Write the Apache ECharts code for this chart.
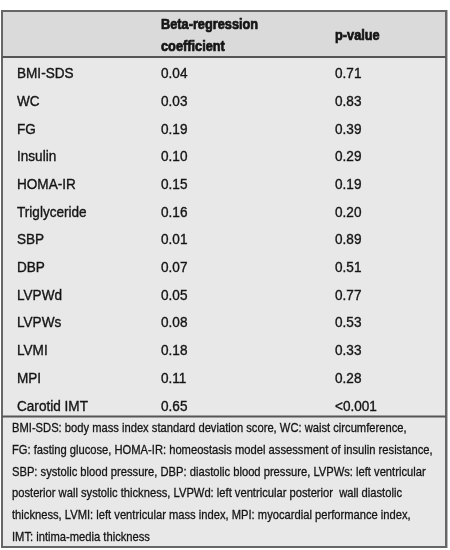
<!DOCTYPE html>
<html><head><meta charset="utf-8">
<script src="https://cdn.jsdelivr.net/npm/echarts@6/dist/echarts.min.js"></script>
<style>html,body{margin:0;padding:0;background:#fff}#c{width:450px;height:550px}</style>
</head><body><div id="c"></div>
<script>
const variables = ['BMI-SDS','WC','FG','Insulin','HOMA-IR','Triglyceride','SBP','DBP','LVPWd','LVPWs','LVMI','MPI','Carotid IMT'];
const betaCoef = ['0.04','0.03','0.19','0.10','0.15','0.16','0.01','0.07','0.05','0.08','0.18','0.11','0.65'];
const pValues = ['0.71','0.83','0.39','0.29','0.19','0.20','0.89','0.51','0.77','0.53','0.33','0.28','<0.001'];
const headerBeta = ['Beta-regression', 'coefficient'];
const headerP = 'p-value';
const footnoteLines = [
 'BMI-SDS: body mass index standard deviation score, WC: waist circumference,',
 'FG: fasting glucose, HOMA-IR: homeostasis model assessment of insulin resistance,',
 'SBP: systolic blood pressure, DBP: diastolic blood pressure, LVPWs: left ventricular',
 'posterior wall systolic thickness, LVPWd: left ventricular posterior  wall diastolic',
 'thickness, LVMI: left ventricular mass index, MPI: myocardial performance index,',
 'IMT: intima-media thickness'
];

const FONT = '"Liberation Sans",Arial,sans-serif';
const colX = [17, 161, 335];
const TXT = '#141414';

const chart = echarts.init(document.getElementById('c'), null, {renderer:'canvas'});

function colSeries(x, values){
  return {
    type:'custom', silent:true,
    data: variables.map(v=>[x, v]),
    encode:{x:0, y:1},
    renderItem:function(params, api){
      const pt = api.coord([api.value(0), api.value(1)]);
      return {type:'text', x:pt[0], y:pt[1], scaleX:0.97,
        style:{text:values[params.dataIndex], font:'14px '+FONT, fill:TXT,
          stroke:TXT, lineWidth:0.35,
          textAlign:'left', textVerticalAlign:'middle'}};
    }
  };
}

const hdrStyle = {fontFamily:FONT, fontWeight:'bold', fontSize:14.5, fill:TXT, stroke:TXT, lineWidth:0.7, textVerticalAlign:'middle'};
chart.setOption({
  animation:false,
  backgroundColor:'#ffffff',
  grid:{left:0, right:0, top:60.5, bottom:129.5, containLabel:false},
  xAxis:{type:'value', min:0, max:450, show:false},
  yAxis:{type:'category', data:variables, inverse:true, show:false},
  graphic:[
    {type:'rect', z:-10, shape:{x:2,y:11,width:444,height:46}, style:{fill:'#dadada'}},
    {type:'rect', z:-10, shape:{x:2,y:57,width:444,height:490}, style:{fill:'#e8e8e8'}},
    {type:'line', z:10, shape:{x1:447.5,y1:10,x2:447.5,y2:548}, style:{stroke:'#b8b8b8', lineWidth:1}},
    {type:'rect', z:10, shape:{x:2,y:11,width:444,height:536}, style:{fill:'none', stroke:'#666666', lineWidth:2}},
    {type:'line', z:10, shape:{x1:2,y1:57,x2:446,y2:57}, style:{stroke:'#555555', lineWidth:2}},
    {type:'line', z:10, shape:{x1:2,y1:416.5,x2:446,y2:416.5}, style:{stroke:'#555555', lineWidth:2}},
    {type:'text', z:10, x:colX[1], y:25, scaleX:0.88, style:Object.assign({text:headerBeta[0]}, hdrStyle)},
    {type:'text', z:10, x:colX[1], y:47, scaleX:0.88, style:Object.assign({text:headerBeta[1]}, hdrStyle)},
    {type:'text', z:10, x:colX[2], y:36, scaleX:0.88, style:Object.assign({text:headerP}, hdrStyle)},
    {type:'group', z:10, children: footnoteLines.map((t,i)=>({
      type:'text', x:12, y:428.5 + i*21.8, scaleX:0.86,
      style:{text:t, font:'13px '+FONT, fill:TXT, stroke:TXT, lineWidth:0.3, textVerticalAlign:'middle'}
    }))}
  ],
  series:[colSeries(colX[0], variables), colSeries(colX[1], betaCoef), colSeries(colX[2], pValues)]
});
</script></body></html>
